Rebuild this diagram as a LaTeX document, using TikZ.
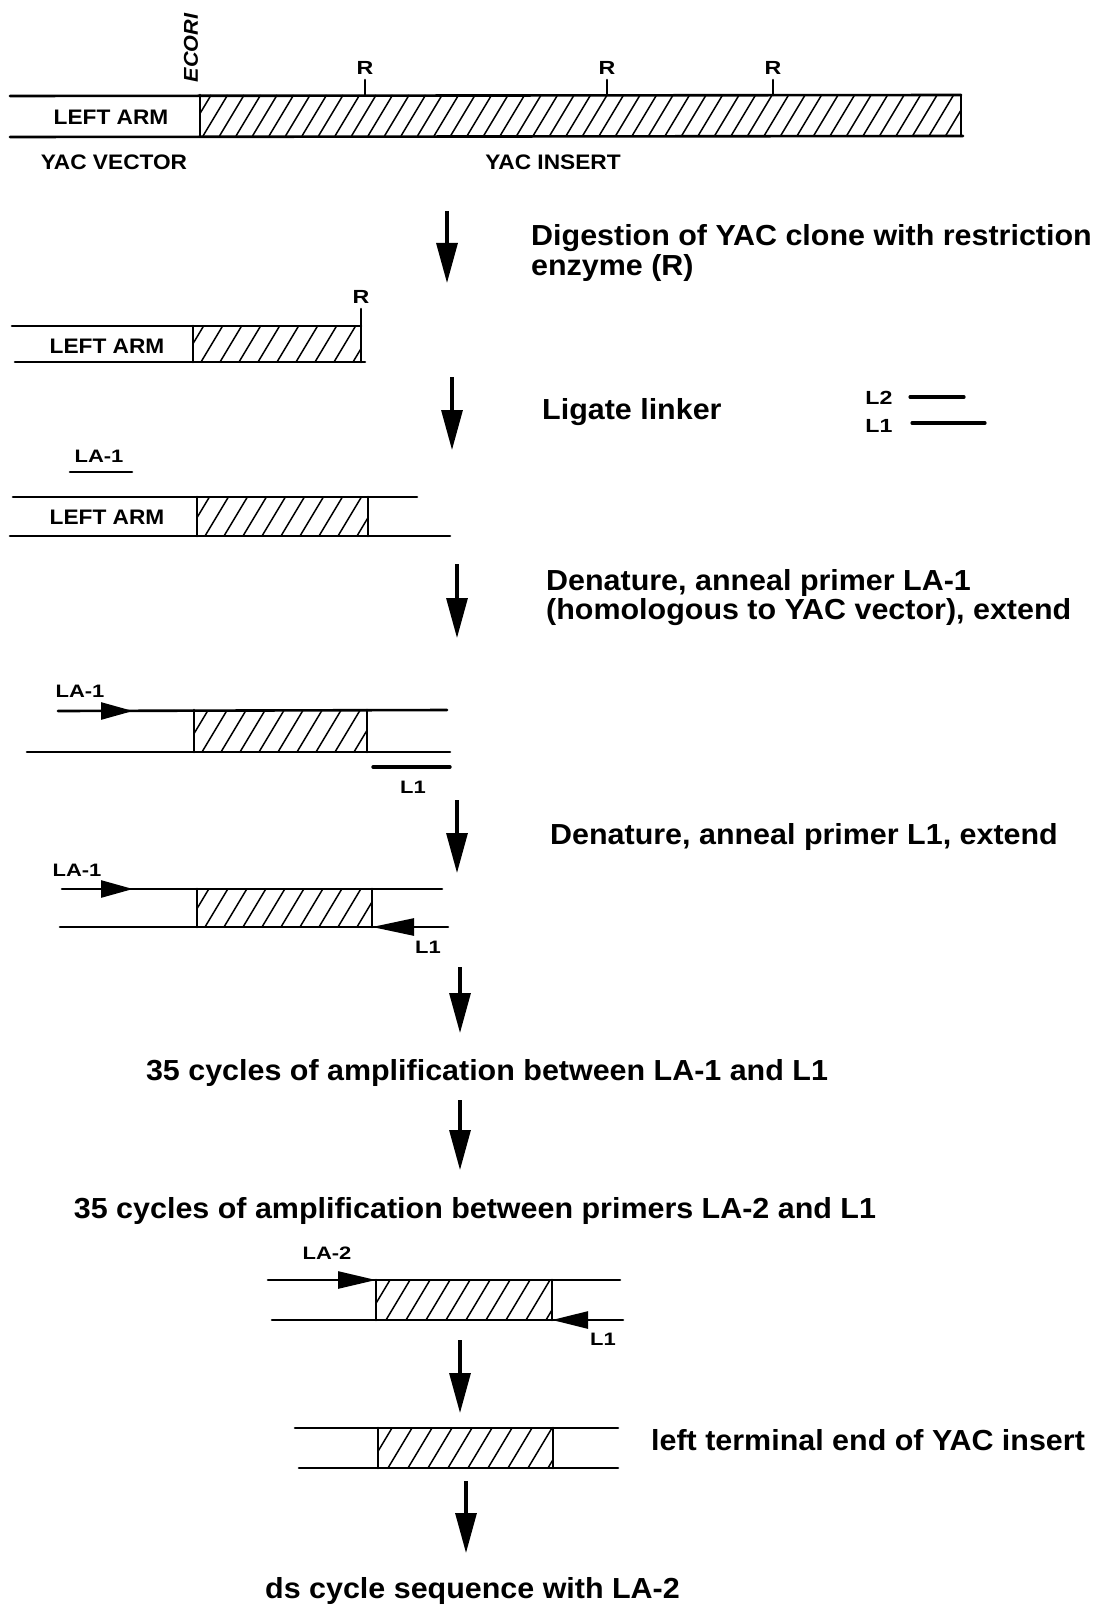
\documentclass[tikz,border=0pt]{standalone}
\usepackage{fontspec}
\setmainfont{Liberation Sans}
\newfontfamily\bigfont[FakeStretch=1.05]{Liberation Sans}
\newfontfamily\midfont[FakeStretch=1.08]{Liberation Sans}
\newfontfamily\smallfont[FakeStretch=1.22]{Liberation Sans}
\usetikzlibrary{arrows.meta}
\newcommand{\hatchrect}[5]{%
  \begin{scope}
    \clip (#1,#2) rectangle (#3,#4);
    \pgfmathsetmacro{\hh}{#4-#2}
    \foreach \k in {0,...,60}{%
      \pgfmathsetmacro{\xa}{#1-30+\k*#5}%
      \pgfmathsetmacro{\xb}{\xa+0.6*\hh}%
      \draw[hatchline] (\xa,#4) -- (\xb,#2);
    }
  \end{scope}
  \draw[strand] (#1,#2) -- (#1,#4) (#3,#2) -- (#3,#4);
}
\tikzset{
  strand/.style={line width=2.6pt, line cap=round},
  hatchline/.style={line width=1.5pt},
  bigtxt/.style={font=\bigfont\fontsize{29}{33}\selectfont\bfseries, anchor=base west, inner sep=0pt},
  lbl/.style={font=\midfont\fontsize{21}{25}\selectfont\bfseries, inner sep=0pt},
  smalllbl/.style={font=\smallfont\fontsize{18}{21}\selectfont\bfseries, inner sep=0pt, anchor=base},
  rlbl/.style={font=\smallfont\fontsize{19}{21}\selectfont\bfseries, inner sep=0pt, anchor=base},
  flowarrow/.style={line width=3.2pt, -{Triangle[length=40pt,width=21pt]}},
  primer/.style={line width=2.6pt, -{Triangle[length=#1,width=17pt]}},
  primer/.default=34pt
}
\begin{document}
\begin{tikzpicture}[x=1pt,y=-1pt]
\useasboundingbox[fill=white] (0,0) rectangle (1092,1613);

% ---------- Row 1 ----------
\hatchrect{200}{95}{961}{136}{16.5}
\draw[strand] (10,96) -- (961,95);
\draw[strand] (10,137) -- (963,136);
\foreach \rx/\nm in {365/ra,607/rb,773/rc}{
  \draw[strand] (\rx,95) -- (\rx,80);
  \node[rlbl] (\nm) at (\rx,75) {R};
}
\node[rotate=90, inner sep=0pt, font=\midfont\fontsize{20}{24}\selectfont\bfseries\itshape] (ecori) at (191,48) {ECORI};
\node[lbl] (leftarm1) at (111,117) {LEFT ARM};
\node[lbl] (yacvec) at (114,162) {YAC VECTOR};
\node[lbl] (yacins) at (553,162) {YAC INSERT};

% arrow 1
\coordinate (a1s) at (447,211); \coordinate (a1e) at (447,283);
\draw[flowarrow] (a1s) -- (a1e);
\node[bigtxt] (t1) at (531,246) {Digestion of YAC clone with restriction};
\node[bigtxt] (t1b) at (531,276) {enzyme (R)};

% ---------- Row 2 ----------
\hatchrect{193}{326}{361}{362}{19}
\draw[strand] (12,326) -- (361,326);
\draw[strand] (15,362) -- (365,362);
\draw[strand] (361,326) -- (361,309);
\node[rlbl] (r2) at (361,303) {R};
\node[lbl] (leftarm2) at (107,346) {LEFT ARM};

% arrow 2
\coordinate (a2s) at (452,377); \coordinate (a2e) at (452,450);
\draw[flowarrow] (a2s) -- (a2e);
\node[bigtxt] (t2) at (542,419) {Ligate linker};
\node[rlbl] (legl2) at (879,404) {L2};
\node[rlbl] (legl1) at (879,432) {L1};
\coordinate (l2a) at (910,397); \coordinate (l2b) at (964,397);
\coordinate (l1a) at (912,423); \coordinate (l1b) at (985,423);
\draw[strand, line width=3.2pt] (l2a) -- (l2b);
\draw[strand, line width=3.2pt] (l1a) -- (l1b);

% ---------- Row 3 ----------
\node[smalllbl] (la1a) at (99,462) {LA-1};
\draw[strand] (70,472) -- (132,472);
\hatchrect{197}{497}{368}{536}{19}
\draw[strand] (13,497) -- (417,497);
\draw[strand] (10,536) -- (450,536);
\node[lbl] (leftarm3) at (107,517) {LEFT ARM};

% arrow 3
\coordinate (a3s) at (457,564); \coordinate (a3e) at (457,638);
\draw[flowarrow] (a3s) -- (a3e);
\node[bigtxt] (t3) at (546,590) {Denature, anneal primer LA-1};
\node[bigtxt] (t3b) at (546,619) {(homologous to YAC vector), extend};

% ---------- Row 4 ----------
\node[smalllbl] (la1b) at (80,697) {LA-1};
\hatchrect{194}{710}{367}{752}{19}
\draw[strand] (58,711) -- (447,710);
\draw[strand] (27,752) -- (450,752);
\coordinate (p4s) at (58,711); \coordinate (p4e) at (133,711);
\draw[primer=32pt] (p4s) -- (p4e);
\draw[strand, line width=3.4pt] (373,767) -- (450,767);
\node[smalllbl] (l1r4) at (413,793) {L1};

% arrow 4
\coordinate (a4s) at (457,800); \coordinate (a4e) at (457,873);
\draw[flowarrow] (a4s) -- (a4e);
\node[bigtxt] (t4) at (550,844) {Denature, anneal primer L1, extend};

% ---------- Row 5 ----------
\node[smalllbl] (la1c) at (77,876) {LA-1};
\hatchrect{197}{889}{372}{927}{19}
\draw[strand] (62,889) -- (442,889);
\draw[strand] (60,927) -- (448,927);
\coordinate (p5s) at (62,889); \coordinate (p5e) at (133,889);
\draw[primer=32pt] (p5s) -- (p5e);
\coordinate (q5s) at (448,927); \coordinate (q5e) at (372,927);
\draw[primer=42pt] (q5s) -- (q5e);
\node[smalllbl] (l1r5) at (428,953) {L1};

% arrow 5
\coordinate (a5s) at (460,967); \coordinate (a5e) at (460,1033);
\draw[flowarrow] (a5s) -- (a5e);
\node[bigtxt, anchor=base] (t5) at (487,1080) {35 cycles of amplification between LA-1 and L1};

% arrow 6
\coordinate (a6s) at (460,1100); \coordinate (a6e) at (460,1170);
\draw[flowarrow] (a6s) -- (a6e);
\node[bigtxt, anchor=base] (t6) at (475,1218) {35 cycles of amplification between primers LA-2 and L1};

% ---------- Row 7 ----------
\node[smalllbl] (la2) at (327,1259) {LA-2};
\hatchrect{376}{1280}{552}{1320}{20}
\draw[strand] (268,1280) -- (620,1280);
\draw[strand] (272,1320) -- (623,1320);
\coordinate (p7s) at (268,1280); \coordinate (p7e) at (376,1280);
\draw[primer=38pt] (p7s) -- (p7e);
\coordinate (q7s) at (623,1320); \coordinate (q7e) at (552,1320);
\draw[primer=36pt] (q7s) -- (q7e);
\node[smalllbl] (l1r7) at (603,1345) {L1};

% arrow 7
\coordinate (a7s) at (460,1340); \coordinate (a7e) at (460,1413);
\draw[flowarrow] (a7s) -- (a7e);

% ---------- Row 8 ----------
\hatchrect{378}{1428}{553}{1468}{20}
\draw[strand] (295,1428) -- (618,1428);
\draw[strand] (299,1468) -- (618,1468);
\node[bigtxt] (t8) at (651,1450) {left terminal end of YAC insert};

% arrow 8
\coordinate (a8s) at (466,1481); \coordinate (a8e) at (466,1553);
\draw[flowarrow] (a8s) -- (a8e);
\node[bigtxt] (t9) at (265,1598) {ds cycle sequence with LA-2};
\end{tikzpicture}
\end{document}
